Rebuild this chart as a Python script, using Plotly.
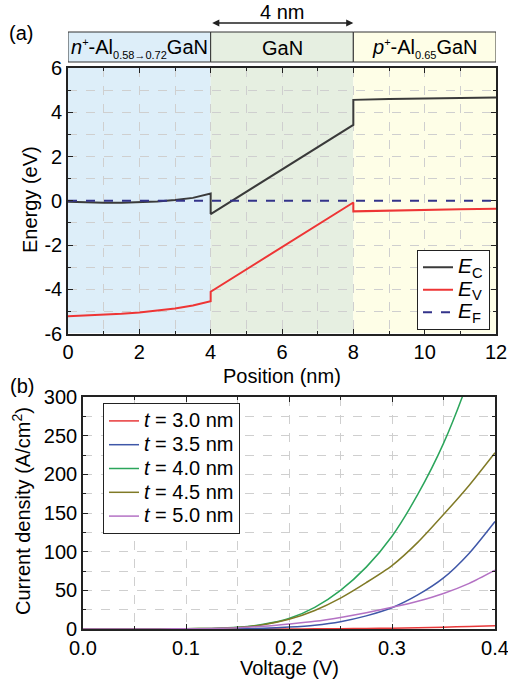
import plotly.graph_objects as go

# ---- (a) band diagram data ----
position = [0, 0.5, 1, 1.5, 2, 2.5, 3, 3.5, 4, 4, 8, 8, 9, 10, 11, 12]
ec = [-0.05, -0.08, -0.09, -0.09, -0.07, -0.03, 0.03, 0.13, 0.33, -0.6, 3.43, 4.56, 4.60, 4.63, 4.65, 4.67]
ev = [-5.22, -5.19, -5.16, -5.11, -5.05, -4.97, -4.87, -4.73, -4.54, -4.11, -0.08, -0.48, -0.44, -0.41, -0.38, -0.36]
ef_pos = [0, 12]
ef = [0, 0]

SMALL = '<span style="font-size:11px">{}</span>'
region_bounds = [0, 4, 8, 12]
region_labels = [
    "<i>n</i><sup>" + SMALL.format("+") + "</sup>-Al<sub>" + SMALL.format("0.58→0.72") + "</sub>GaN",
    "GaN",
    "<i>p</i><sup>" + SMALL.format("+") + "</sup>-Al<sub>" + SMALL.format("0.65") + "</sub>GaN",
]
region_colors = ["#ddeef9", "#e6efe1", "#fefee7"]
band_names = ["C", "V", "F"]

a_xticks = [0, 2, 4, 6, 8, 10, 12]
a_yticks = [-6, -4, -2, 0, 2, 4, 6]
a_yticktext = ["-6", "-4", "-2", "0", "2", "4", "6"]

# ---- (b) current density vs voltage ----
voltage = [0, 0.025, 0.05, 0.075, 0.1, 0.125, 0.15, 0.175, 0.2, 0.225, 0.25,
           0.275, 0.3, 0.325, 0.35, 0.375, 0.4]
j_30 = [0, 0, 0, 0, 0, 0, 0, 0, 0.1, 0.2, 0.4, 0.7, 1.1, 1.7, 2.4, 3.2, 4.2]
j_35 = [0, 0, 0, 0, 0, 0.1, 0.3, 0.9, 2.5, 5, 9.5, 17, 27.5, 44, 66, 98, 139]
j_40 = [0, 0, 0, 0.1, 0.3, 0.8, 2.2, 6, 13.5, 28, 50, 80, 120, 174, 240, 325, 430]
j_45 = [0, 0, 0, 0.1, 0.3, 0.8, 2, 5.5, 12.5, 24, 40, 60, 82, 112, 148, 186, 228]
j_50 = [0, 0, 0, 0.1, 0.3, 0.7, 1.5, 3.5, 6.5, 10, 15, 21, 28, 36, 46, 59, 76]
thickness_labels = ["3.0", "3.5", "4.0", "4.5", "5.0"]
series_colors = ["#e8393a", "#3f57a8", "#2ba55b", "#807a26", "#b472c4"]

b_xticks = [0, 0.1, 0.2, 0.3, 0.4]
b_xticktext = ["0.0", "0.1", "0.2", "0.3", "0.4"]
b_yticks = [0, 50, 100, 150, 200, 250, 300]

W, H = 508, 683
FONT = "Liberation Sans, Arial, sans-serif"
TEXT_SIZE = 20


def px_x(p):
    return p / W


def px_y(p):
    return 1 - p / H


fig = go.Figure()

band_styles = [("#3a3a3a", "solid"), ("#ee3535", "solid"), ("#33338a", "dash")]
for ys, sub, (color, dash) in zip([ec, ev, ef], band_names, band_styles):
    xs = ef_pos if sub == "F" else position
    fig.add_trace(go.Scatter(
        x=xs, y=ys, mode="lines",
        name=f'<span style="font-size:21px"><i>E</i><sub>{sub}</sub></span>',
        line=dict(color=color, width=2, dash=dash),
        xaxis="x", yaxis="y", legend="legend"))

for label, ys, color in zip(thickness_labels, [j_30, j_35, j_40, j_45, j_50], series_colors):
    fig.add_trace(go.Scatter(
        x=voltage, y=ys, mode="lines",
        name=f'<span style="font-size:20px"><i>t</i> = {label} nm</span>',
        line=dict(color=color, width=1.5, shape="spline", smoothing=0.7),
        xaxis="x2", yaxis="y2", legend="legend2"))

# coloured layer regions in (a) and the header strip above it
shapes = []
annotations = []
for i in range(3):
    shapes.append(dict(type="rect", xref="x", yref="y", x0=region_bounds[i], x1=region_bounds[i + 1],
                       y0=-6, y1=6, fillcolor=region_colors[i], line=dict(width=0), layer="below"))
    shapes.append(dict(type="rect", xref="x", yref="paper", x0=region_bounds[i], x1=region_bounds[i + 1],
                       y0=px_y(62), y1=px_y(32), fillcolor=region_colors[i],
                       line=dict(color="#333333", width=1)))
    annotations.append(dict(x=(region_bounds[i] + region_bounds[i + 1]) / 2, xref="x",
                            y=px_y(48), yref="paper", text=region_labels[i], showarrow=False,
                            font=dict(family=FONT, size=TEXT_SIZE, color="black"),
                            xanchor="center", yanchor="middle"))

# 4 nm width marker
annotations.append(dict(x=8, xref="x", y=px_y(23), yref="paper", ax=4, axref="x", ay=0, ayref="pixel",
                        text="", showarrow=True, arrowhead=2, arrowside="end+start",
                        arrowsize=1.1, arrowwidth=1.3, arrowcolor="#222222"))
annotations.append(dict(x=6, xref="x", y=px_y(12), yref="paper", text="4 nm", showarrow=False,
                        font=dict(family=FONT, size=TEXT_SIZE, color="black"),
                        xanchor="center", yanchor="middle"))


def label(x, y, text, angle=0):
    return dict(x=px_x(x), y=px_y(y), xref="paper", yref="paper", text=text, showarrow=False,
                textangle=angle, xanchor="center", yanchor="middle",
                font=dict(family=FONT, size=TEXT_SIZE, color="black"))


# panel letters and axis titles
annotations += [
    label(21, 33, "(a)"),
    label(22, 386, "(b)"),
    label(282, 376, "Position (nm)"),
    label(289, 668, "Voltage (V)"),
    label(30, 200, "Energy (eV)", -90),
    label(21, 511, "Current density (A/cm<sup>2</sup>)", -90),
]

grid_style = dict(showgrid=True, gridcolor="#cfcfcf", griddash="dash", gridwidth=1)
axis_common = dict(showline=True, linecolor="#222222", linewidth=1.6, mirror="allticks",
                   ticks="inside", ticklen=5, tickwidth=1.3, tickcolor="#222222", automargin=False,
                   ticklabeloverflow="allow",
                   tickfont=dict(family=FONT, size=TEXT_SIZE, color="black"), zeroline=False, **grid_style)


def minor(step):
    return dict(dtick=step, ticks="inside", ticklen=3, showgrid=True, gridcolor="#cfcfcf", griddash="dash")


fig.update_layout(
    width=W, height=H, autosize=False,
    margin=dict(l=0, r=0, t=0, b=0, pad=0, autoexpand=False),
    paper_bgcolor="white", plot_bgcolor="white",
    shapes=shapes, annotations=annotations,
    xaxis=dict(domain=[px_x(68), px_x(496)], range=[0, 12], tickvals=a_xticks, anchor="y",
               minor=minor(1), **axis_common),
    yaxis=dict(domain=[px_y(333.5), px_y(68)], range=[-6, 6], tickvals=a_yticks, ticktext=a_yticktext,
               anchor="x", minor=minor(1), **axis_common),
    xaxis2=dict(domain=[px_x(83), px_x(495)], range=[0, 0.4], tickvals=b_xticks, ticktext=b_xticktext,
                anchor="y2", minor=minor(0.05), **axis_common),
    yaxis2=dict(domain=[px_y(629), px_y(397)], range=[0, 300], tickvals=b_yticks, anchor="x2",
                minor=minor(25), **axis_common),
    legend=dict(x=px_x(417), y=px_y(250), xanchor="left", yanchor="top", bgcolor="white",
                bordercolor="#222222", borderwidth=1, font=dict(family=FONT, size=15, color="black"),
                itemwidth=30, tracegroupgap=0),
    legend2=dict(x=px_x(103), y=px_y(403), xanchor="left", yanchor="top", bgcolor="white",
                 bordercolor="#222222", borderwidth=1, font=dict(family=FONT, size=16, color="black"),
                 itemwidth=30, tracegroupgap=0),
    showlegend=True,
)

fig.write_html("out.html")
